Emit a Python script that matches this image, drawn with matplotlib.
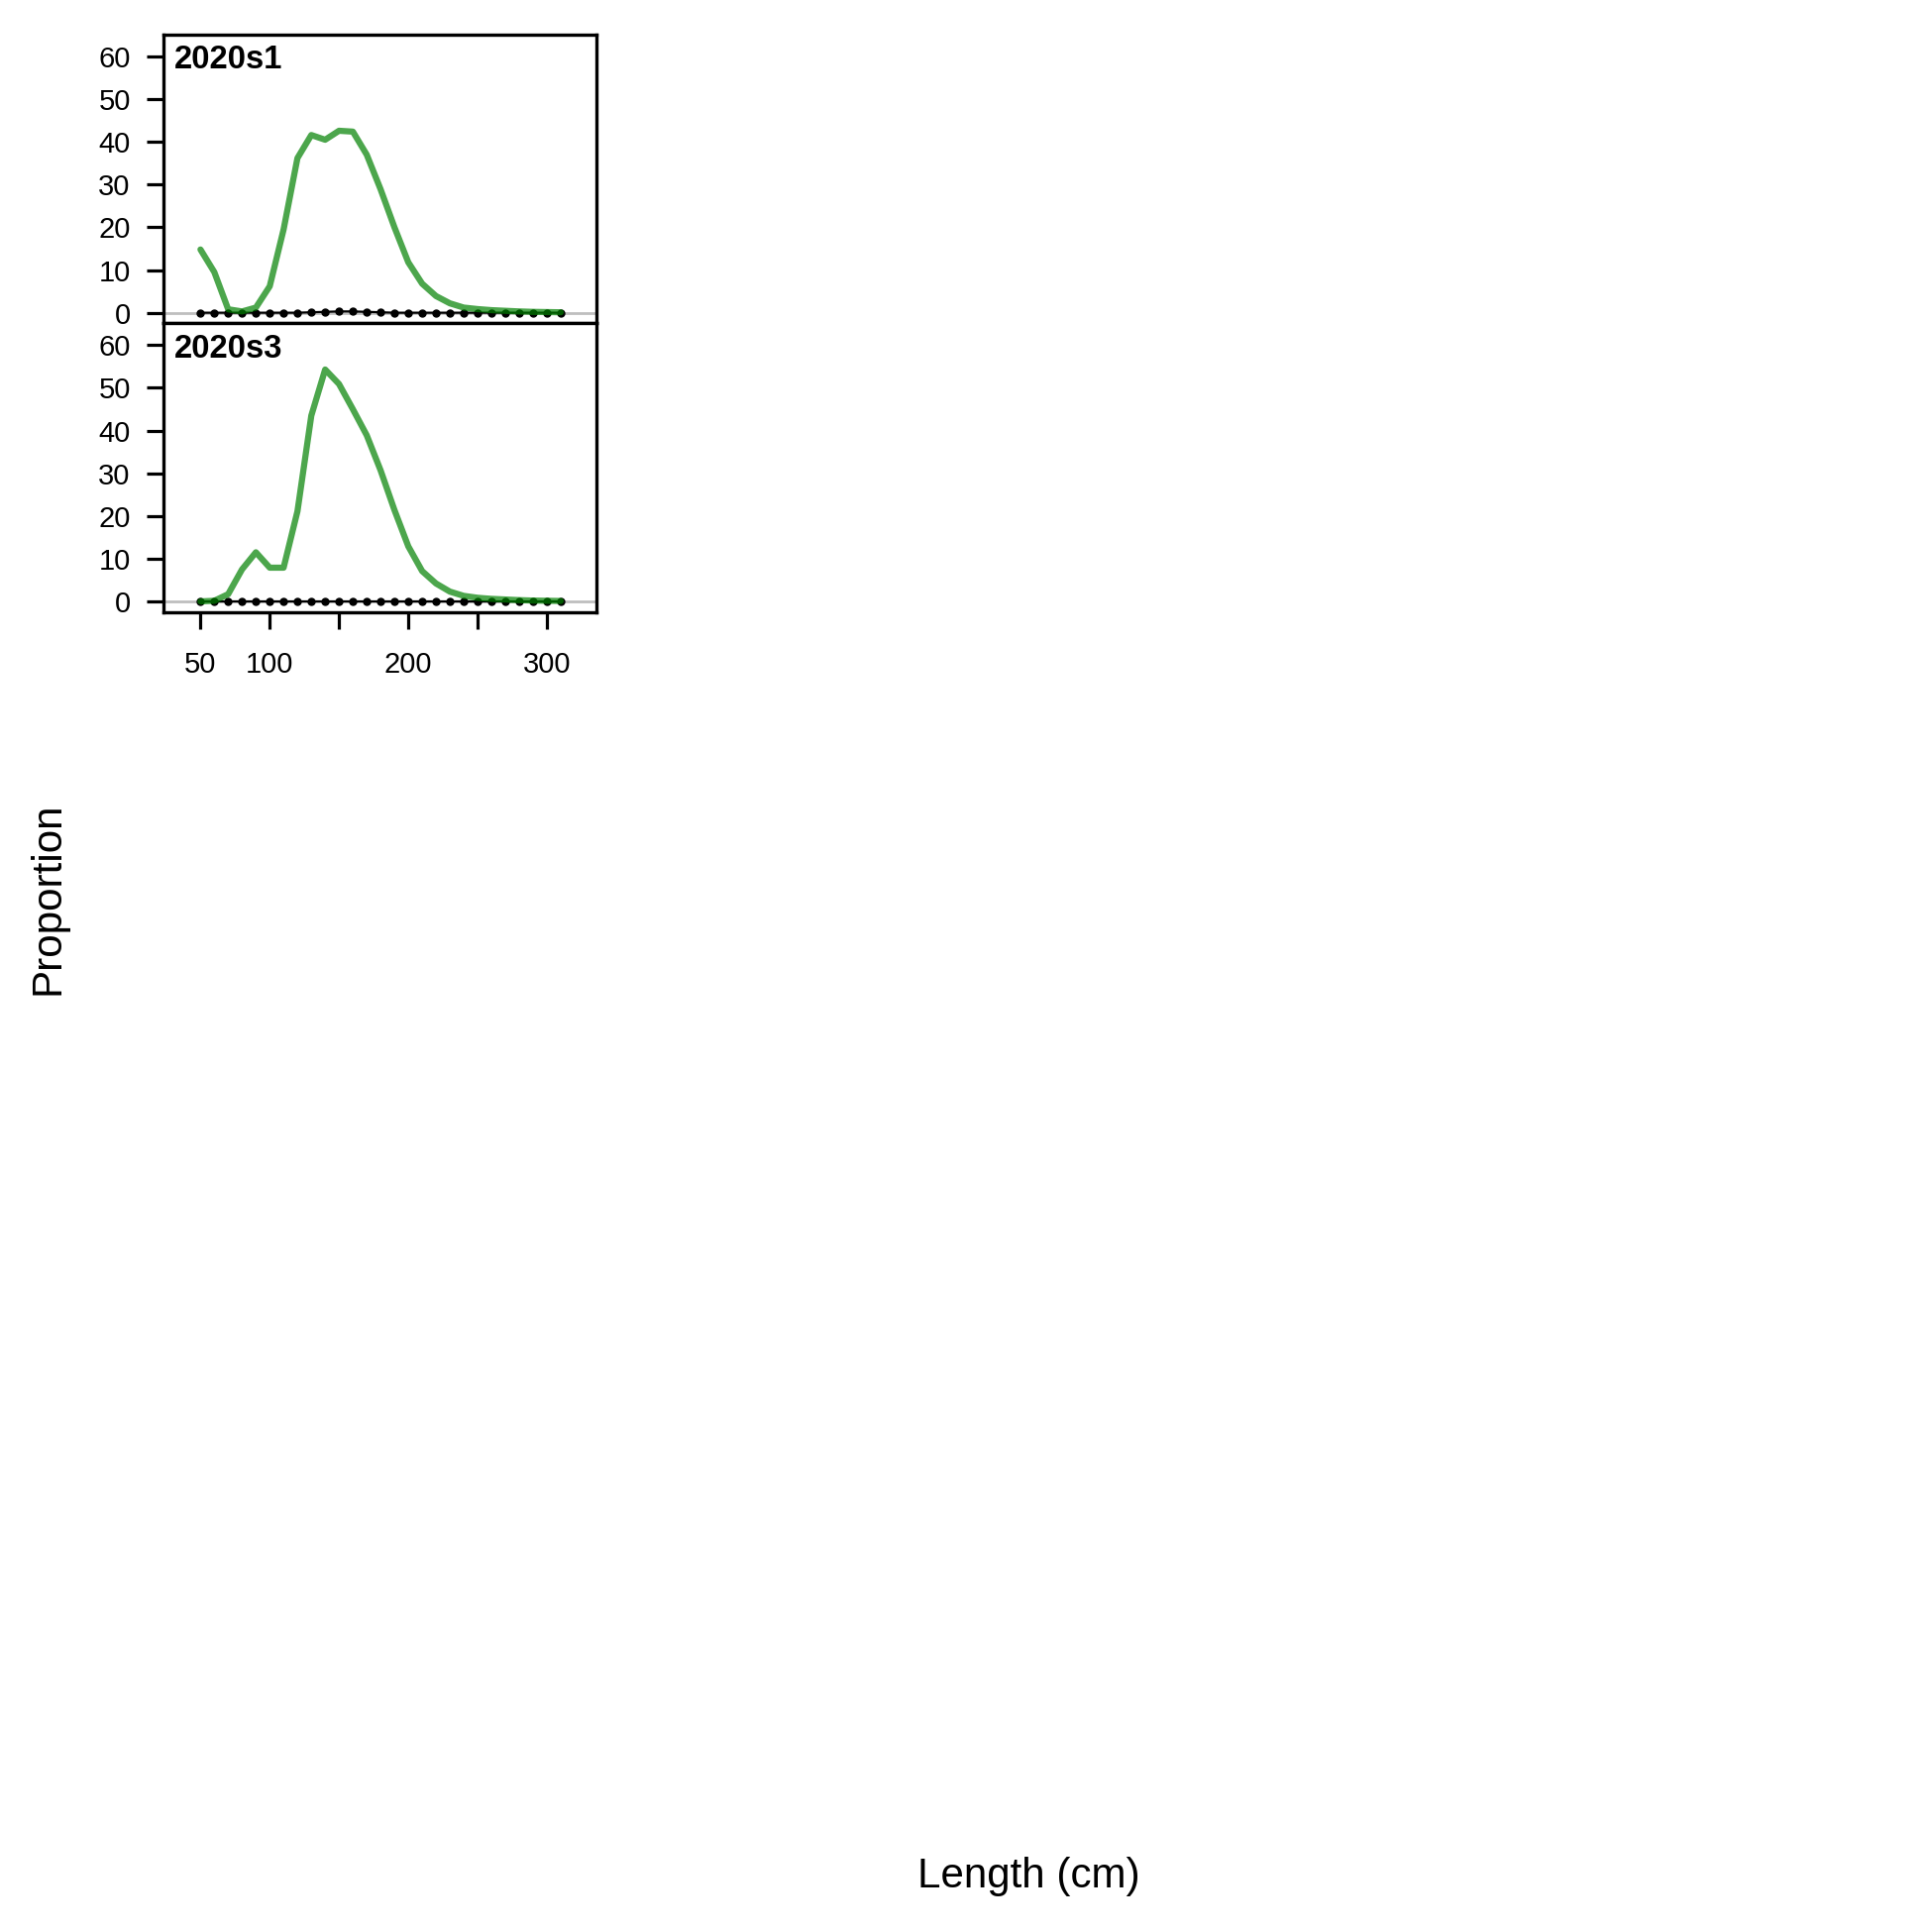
import numpy as np
import matplotlib
matplotlib.use('Agg')
import matplotlib.pyplot as plt

plt.rcParams['font.family'] = ['Liberation Sans', 'DejaVu Sans']

length_bins = list(range(50, 320, 10))

# expected (green) and observed (black) for each panel
exp_s1 = [14.8, 9.5, 0.8, 0.3, 1.2, 6.2, 19.5, 36.2, 41.6, 40.5, 42.6, 42.4, 37.0,
          28.9, 20.0, 11.8, 6.8, 3.9, 2.2, 1.2, 0.85, 0.6, 0.45, 0.3, 0.2, 0.15, 0.1]
obs_s1 = [0, 0, 0, 0, 0, 0, 0, 0, 0.1, 0.2, 0.3, 0.3, 0.2, 0.1, 0, 0, 0, 0, 0, 0,
          0, 0, 0, 0, 0, 0, 0]
exp_s3 = [0, 0.15, 1.7, 7.5, 11.5, 7.9, 7.9, 21.1, 43.5, 54.3, 50.9, 45.0, 38.9,
          30.7, 21.4, 12.9, 7.1, 4.2, 2.3, 1.3, 0.85, 0.6, 0.45, 0.3, 0.2, 0.15, 0.1]
obs_s3 = [0] * 27

panels = [('2020s1', exp_s1, obs_s1), ('2020s3', exp_s3, obs_s3)]

W = 1950.0
fig = plt.figure(figsize=(19.5, 19.5), dpi=100)

left, right = 165 / W, 602 / W
tops = [35, 326.4]
bots = [326.4, 617.8]
ph = 291.4  # panel height in px

for i, (name, exp, obs) in enumerate(panels):
    ax = fig.add_axes([left, 1 - bots[i] / W, right - left, (bots[i] - tops[i]) / W])
    ax.axhline(0, color='#BEBEBE', lw=2, zorder=1)
    ax.plot(length_bins, obs, color='black', lw=1.6, marker='o', ms=5, zorder=2)
    ax.plot(length_bins, exp, color=(0, 0.5, 0), alpha=0.7, lw=4.5, zorder=3,
            solid_joinstyle='round', solid_capstyle='round')
    ax.set_xlim(23.3, 335.8)
    ax.set_ylim(-2.5, 65.1)
    ax.set_yticks([0, 10, 20, 30, 40, 50, 60])
    ax.tick_params(axis='y', length=12, width=2.3, labelsize=21, pad=12)
    for s in ax.spines.values():
        s.set_linewidth(2.4)
    ax.text(0.0245, 1 - 34.3 / ph, name, transform=ax.transAxes, fontsize=23.6,
            fontweight='bold', ha='left', va='baseline')
    if i == 1:
        ax.set_xticks([50, 100, 150, 200, 250, 300])
        ax.set_xticklabels(['50', '100', '', '200', '', '300'])
        ax.tick_params(axis='x', length=12.3, width=2.3, labelsize=21, pad=16)
    else:
        ax.set_xticks([])

fig.text(1038 / W, 1 - 1905 / W, 'Length (cm)', fontsize=30.3, ha='center', va='baseline')
fig.text(59.5 / W, 1 - 906.5 / W, 'Proportion', fontsize=30.3, rotation=90,
         rotation_mode='anchor', ha='center', va='baseline')

fig.savefig('out.png', dpi=100)
